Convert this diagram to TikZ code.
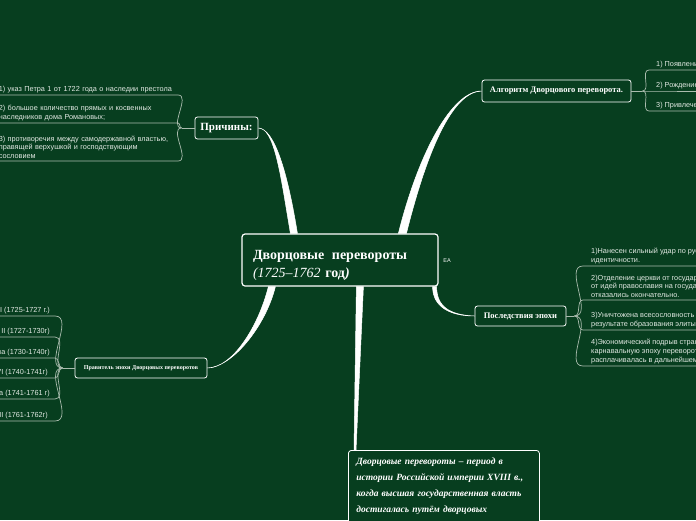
\documentclass[tikz,border=0pt]{standalone}
\usepackage{fontspec}
\setmainfont{Liberation Serif}
\setsansfont{Liberation Sans}
\usetikzlibrary{positioning, calc}

\definecolor{bgreen}{RGB}{7,62,31}
\definecolor{leafgray}{RGB}{170,188,174}
\definecolor{leaftext}{RGB}{226,233,227}

\tikzset{
  mainbox/.style={draw=white, line width=1.2pt, rounded corners=3pt, fill=bgreen, text=white},
  topicbox/.style={draw=white, line width=0.8pt, rounded corners=2.5pt, fill=bgreen, text=white, inner sep=0pt},
  leaf/.style={text=leaftext, font=\sffamily\fontsize{7.3}{8.8}\selectfont, inner ysep=2pt, align=left},
  leafline/.style={draw=leafgray, line width=0.7pt},
  trunk/.style={fill=white, draw=white, line width=0.5pt},
}

\begin{document}
\begin{tikzpicture}[x=1pt, y=-1pt]

      % Background.
      \clip (0,0) rectangle (696,520);
      \fill[bgreen] (0,0) rectangle (696,520);

      % Central topic and main branches.
      \node[mainbox, minimum width=196pt, text width=174pt, inner xsep=11pt, inner ysep=0pt, align=left,
        font=\bfseries\fontsize{14}{18}\selectfont] (center) at (340,260)
        {\rule{0pt}{25pt}Дворцовые\hspace{3pt} перевороты\\
         \rule[-9pt]{0pt}{9pt}{\mdseries\itshape (1725–1762} год{\itshape )}};
      \node[text=white, font=\sffamily\fontsize{5.5}{6}\selectfont] (ea) at (447,261) {EA};

      \node[topicbox, minimum width=63pt, minimum height=22pt, font=\bfseries\fontsize{11}{13}\selectfont] (reasons) at (226.5,128) {Причины:};
      \node[topicbox, minimum width=149pt, minimum height=22pt, font=\bfseries\fontsize{8.5}{10}\selectfont] (algo) at (556.5,91) {Алгоритм Дворцового переворота.};
      \node[topicbox, minimum width=91pt, minimum height=20pt, font=\bfseries\fontsize{8.5}{10}\selectfont] (effects) at (520.5,316) {Последствия эпохи};
      \node[topicbox, minimum width=132pt, minimum height=20pt, font=\bfseries\fontsize{6}{7}\selectfont] (rulers) at (141,368) {Правитель эпохи Дворцовых переворотов};

      \node[mainbox, line width=0.8pt, anchor=north west, text width=175pt, inner xsep=8pt, inner ysep=0pt, align=left,
        font=\bfseries\itshape\fontsize{9.5}{16}\selectfont] (definition) at (348,450)
        {\rule{0pt}{14pt}Дворцовые перевороты – период в\\
         истории Российской империи XVIII в.,\\
         когда высшая государственная власть\\
         достигалась путём дворцовых\rule[-40pt]{0pt}{0pt}};

      % Draw the tapered branches.
      \filldraw[trunk] ($(center.north west)+(49,0)$) .. controls +(-10,-60) and +(16,0) .. (reasons.east)
        .. controls +(16,1) and +(-10,-62) .. ($(center.north west)+(56,0)$) -- cycle;
      \filldraw[trunk] ($(center.north west)+(157,0)$) .. controls +(20,-80) and +(-30,0) .. (algo.west)
        .. controls +(-30,1) and +(20,-80) .. ($(center.north west)+(165,0)$) -- cycle;
      \filldraw[trunk] ($(center.south west)+(27,0)$) .. controls +(-10,40) and +(25,0) .. (rulers.east)
        .. controls +(25,-1) and +(-10,40) .. ($(center.south west)+(34,0)$) -- cycle;
      \filldraw[trunk] ($(center.south east)+(-6,0)$) .. controls +(0,20) and +(-25,0) .. (effects.west)
        .. controls +(-25,-1) and +(0,20) .. ($(center.south east)+(-2,0)$) -- cycle;
      \filldraw[trunk] ($(center.south west)+(115,0)$) -- ($(definition.north west)+(6,0)$)
        -- ($(definition.north west)+(8,0)$) -- ($(center.south west)+(122,0)$) -- cycle;

      % Reasons.
      \draw[leafline] (reasons.west) -- ++(-13,0) coordinate (rj);
      \node[leaf, anchor=south east, text width=178pt, inner xsep=1pt] (r1) at (178,95)
        {1) указ Петра 1 от 1722 года о наследии престола};
      \node[leaf, anchor=south east, text width=178pt, inner xsep=1pt] (r2) at (178,123)
        {2) большое количество прямых и косвенных\\ наследников дома Романовых;};
      \node[leaf, anchor=south east, text width=178pt, inner xsep=1pt] (r3) at (178,161)
        {3) противоречия между самодержавной властью,\\ правящей верхушкой и господствующим\\ сословием};
      \foreach \n in {r1,r2,r3}
        \draw[leafline] (rj) to[out=180, in=0] (\n.south east) -- (\n.south west);

      % Rulers.
      \draw[leafline] (rulers.west) -- ++(-12,0) coordinate (pj);
      \node[leaf, anchor=south east, inner xsep=5pt] (p1) at (55,316) {Екатерина I (1725-1727 г.)};
      \node[leaf, anchor=south east, inner xsep=5pt] (p2) at (55,337) {Пётр II (1727-1730г)};
      \node[leaf, anchor=south east, inner xsep=5pt] (p3) at (55,358) {Анна Иоанновна (1730-1740г)};
      \node[leaf, anchor=south east, inner xsep=7pt] (p4) at (55,378) {Иван VI (1740-1741г)};
      \node[leaf, anchor=south east, inner xsep=5pt] (p5) at (55,399) {Елизавета Петровна (1741-1761 г)};
      \node[leaf, anchor=south east, inner xsep=7pt] (p6) at (55,421) {Пётр III (1761-1762г)};
      \foreach \n in {p1,p2,p3,p4,p5,p6}
        \draw[leafline] (pj) to[out=180, in=0] (\n.south east) -- (\n.south west);

      % Algorithm.
      \draw[leafline] (algo.east) -- ++(11,0) coordinate (aj);
      \node[leaf, anchor=south west, inner xsep=7pt] (a1) at (649,70) {1) Появление};
      \node[leaf, anchor=south west, inner xsep=7pt] (a2) at (649,91) {2) Рождение};
      \node[leaf, anchor=south west, inner xsep=7pt] (a3) at (649,111) {3) Привлечение};
      \foreach \n in {a1,a2,a3}
        \draw[leafline] (aj) to[out=0, in=180] (\n.south west) -- (\n.south east);

      % Consequences.
      \draw[leafline] (effects.east) -- ++(8,0) coordinate (ej);
      \node[leaf, anchor=south west, inner xsep=8pt] (e1) at (583,266)
        {1)Нанесен сильный удар по русской\\ идентичности.};
      \node[leaf, anchor=south west, inner xsep=8pt] (e2) at (583,300)
        {2)Отделение церкви от государства\\ от идей православия на государственном\\ отказались окончательно.};
      \node[leaf, anchor=south west, inner xsep=8pt] (e3) at (583,330)
        {3)Уничтожена всесословность в\\ результате образования элиты};
      \node[leaf, anchor=south west, inner xsep=8pt] (e4) at (583,366)
        {4)Экономический подрыв страны\\ карнавальную эпоху переворотов\\ расплачивалась в дальнейшем};
      \foreach \n in {e1,e2,e3,e4}
        \draw[leafline] (ej) to[out=0, in=180] (\n.south west) -- (\n.south east);

\end{tikzpicture}
\end{document}
